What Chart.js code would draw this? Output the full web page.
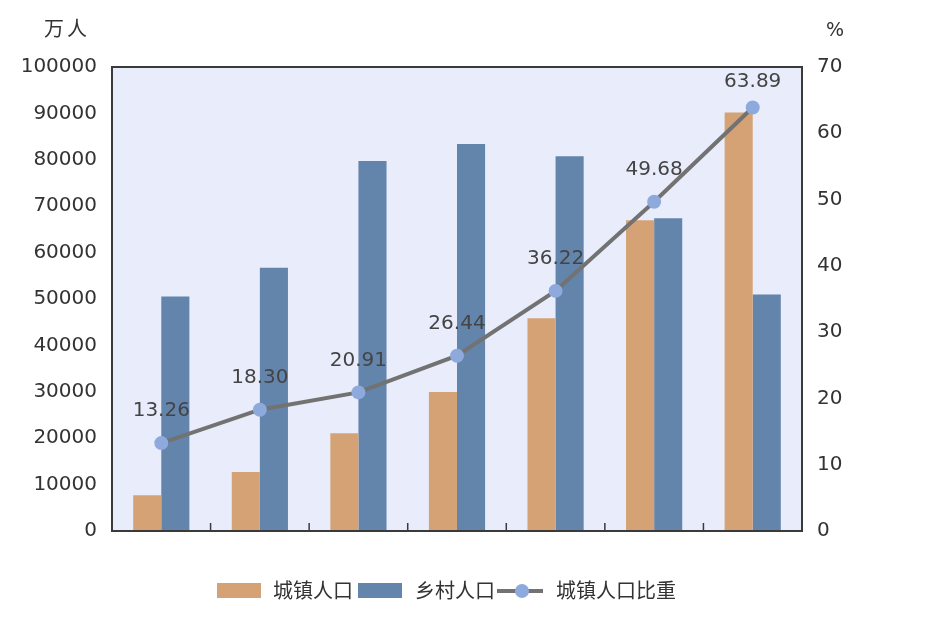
<!DOCTYPE html>
<html>
<head>
<meta charset="utf-8">
<script src="https://cdn.jsdelivr.net/npm/chart.js@4/dist/chart.umd.min.js"></script>
<style>
  html, body { margin: 0; padding: 0; background: #fff; }
  #wrap { width: 928px; height: 626px; }
</style>
</head>
<body>
<div id="wrap"><canvas id="grafica" width="928" height="626"></canvas></div>
<script>
// 历次人口普查 城镇/乡村人口 (万人) 与城镇人口比重 (%)
const anios = ["1953", "1964", "1982", "1990", "2000", "2010", "2020"]
const urbana = [7726, 12710, 21082, 29971, 45844, 66978, 90199]
const rural = [50534, 56748, 79736, 83397, 80739, 67415, 50979]
const proporcion = [13.26, 18.30, 20.91, 26.44, 36.22, 49.68, 63.89]
const etiquetas = ["城镇人口", "乡村人口", "城镇人口比重"]
const unidadIzq = "万人"
const unidadDer = "%"

const fuente = "'DejaVu Sans', 'Noto Sans CJK SC', sans-serif"
const fuenteCJK = "'Noto Sans CJK SC', 'DejaVu Sans', sans-serif"

// fondo, borde, ticks del eje x, etiquetas, unidades y leyenda
const extras = {
    id: "extras",
    beforeDraw(chart) {
        const { ctx, chartArea: a } = chart
        ctx.save()
        ctx.fillStyle = "#e9edfb"
        ctx.fillRect(a.left, a.top, a.right - a.left, a.bottom - a.top)
        ctx.restore()
    },
    afterDatasetsDraw(chart) {
        const { ctx, chartArea: a } = chart
        const x = chart.scales.x
        ctx.save()
        // borde del área
        ctx.strokeStyle = "#3a3a3a"
        ctx.lineWidth = 2
        ctx.strokeRect(a.left, a.top, a.right - a.left, a.bottom - a.top)
        // ticks entre categorías
        ctx.lineWidth = 1.5
        for (let i = 1; i < anios.length; i++) {
            const px = (x.getPixelForValue(i - 1) + x.getPixelForValue(i)) / 2
            ctx.beginPath()
            ctx.moveTo(px, a.bottom)
            ctx.lineTo(px, a.bottom - 8)
            ctx.stroke()
        }
        // etiquetas de la línea
        const meta = chart.getDatasetMeta(2)
        ctx.fillStyle = "#444"
        ctx.font = "20px " + fuente
        ctx.textAlign = "center"
        ctx.textBaseline = "middle"
        meta.data.forEach((p, i) => {
            const ty = Math.max(p.y - 32, a.top + 15)
            ctx.fillText(proporcion[i].toFixed(2), p.x, ty)
        })
        // unidades
        ctx.font = "20px " + fuenteCJK
        ctx.fillStyle = "#333"
        ctx.fillText(unidadIzq[0], 54, 28)
        ctx.fillText(unidadIzq[1], 77, 28)
        ctx.font = "19px " + fuente
        ctx.fillText(unidadDer, 835, 31)
        // leyenda
        const ly = 590
        ctx.font = "20px " + fuenteCJK
        ctx.textAlign = "left"
        ctx.fillStyle = chart.data.datasets[0].backgroundColor
        ctx.fillRect(217, ly - 7, 44, 15)
        ctx.fillStyle = "#333"
        ctx.fillText(etiquetas[0], 273, ly)
        ctx.fillStyle = chart.data.datasets[1].backgroundColor
        ctx.fillRect(358, ly - 7, 44, 15)
        ctx.fillStyle = "#333"
        ctx.fillText(etiquetas[1], 415, ly)
        ctx.strokeStyle = chart.data.datasets[2].borderColor
        ctx.lineWidth = 4
        ctx.beginPath()
        ctx.moveTo(497, ly + 1)
        ctx.lineTo(543, ly + 1)
        ctx.stroke()
        ctx.fillStyle = chart.data.datasets[2].pointBackgroundColor
        ctx.beginPath()
        ctx.arc(522, ly + 1, 7, 0, Math.PI * 2)
        ctx.fill()
        ctx.fillStyle = "#333"
        ctx.fillText(etiquetas[2], 556, ly)
        ctx.restore()
    }
}

const grafico = new Chart(document.querySelector("#grafica"), {
    data: {
        labels: anios,
        datasets: [
            {
                type: "bar",
                label: etiquetas[0],
                data: urbana,
                backgroundColor: "#d4a275",
                yAxisID: "y",
                order: 2,
                categoryPercentage: 0.57,
                barPercentage: 1
            },
            {
                type: "bar",
                label: etiquetas[1],
                data: rural,
                backgroundColor: "#6384ab",
                yAxisID: "y",
                order: 2,
                categoryPercentage: 0.57,
                barPercentage: 1
            },
            {
                type: "line",
                label: etiquetas[2],
                data: proporcion,
                borderColor: "#727272",
                borderWidth: 4,
                pointRadius: 7,
                pointBackgroundColor: "#8eaadc",
                pointBorderWidth: 0,
                yAxisID: "y1",
                order: 1
            }
        ]
    },
    options: {
        responsive: false,
        animation: false,
        layout: { padding: { top: 67, left: 0, right: 0, bottom: 0 } },
        plugins: {
            legend: { display: false },
            tooltip: { enabled: false }
        },
        scales: {
            x: {
                grid: { display: false, drawTicks: false },
                border: { display: false },
                ticks: { display: false },
                afterFit: s => { s.height = 95 }
            },
            y: {
                position: "left",
                min: 0,
                max: 100000,
                grid: { display: false, drawTicks: false },
                border: { display: false },
                ticks: {
                    stepSize: 10000,
                    padding: 15,
                    color: "#333",
                    font: { family: fuente, size: 20 },
                    callback: v => String(v)
                },
                afterFit: s => { s.width = 112 }
            },
            y1: {
                position: "right",
                min: 0,
                max: 70,
                grid: { display: false, drawTicks: false },
                border: { display: false },
                ticks: {
                    stepSize: 10,
                    padding: 15,
                    color: "#333",
                    font: { family: fuente, size: 20 },
                    callback: v => String(v)
                },
                afterFit: s => { s.width = 126 }
            }
        }
    },
    plugins: [extras]
})
</script>
</body>
</html>
